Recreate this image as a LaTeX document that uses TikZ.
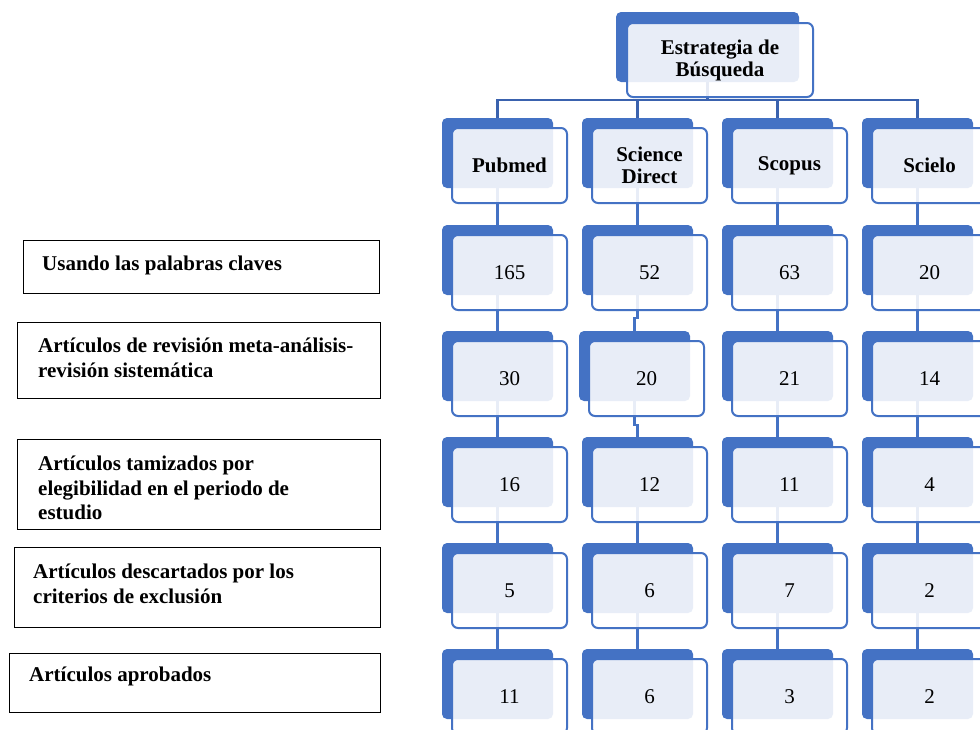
\documentclass[tikz,border=0pt]{standalone}
\usepackage{fontspec}
\setmainfont{Liberation Serif}
\definecolor{sblue}{HTML}{4472C4}
\definecolor{tblue}{HTML}{3A62AE}
\pgfdeclarelayer{bgwhite}
\pgfdeclarelayer{background}
\pgfsetlayers{bgwhite,background,main}
\newcommand\mkcell[5]{%
  \node[backbox] (b#1) at (#2,#3) {};
  \node[frontbox,font=#5] (f#1) at (#2+10,#3+10) {#4};}
\begin{document}
\begin{tikzpicture}[x=1pt,y=-1pt,
  backbox/.style={fill=sblue,draw=none,rounded corners=5pt,minimum width=111pt,minimum height=70pt,anchor=north west,inner sep=0pt,outer sep=0pt},
  frontbox/.style={draw=sblue,line width=2pt,fill=white,fill opacity=0.88,text opacity=1,rounded corners=6pt,minimum width=115pt,minimum height=75pt,anchor=north west,inner sep=0pt,outer sep=0pt,align=center},
  conn/.style={draw=sblue,line width=2.4pt},
  treeconn/.style={draw=tblue,line width=2.6pt,line join=miter},
  leftbox/.style={draw=black,line width=1.3pt,fill=white,anchor=north west,inner sep=0pt},
  lefttext/.style={anchor=west,align=left,inner sep=0pt,font=\fontsize{21}{24.5}\selectfont\bfseries}
]
\useasboundingbox (0,0) rectangle (980,729);
\begin{pgfonlayer}{bgwhite}
\fill[white] (0,0) rectangle (980,729);
\end{pgfonlayer}

% top node
\node[backbox,minimum width=183pt,minimum height=70pt] (tb) at (616,12) {};
\node[frontbox,minimum width=186pt,minimum height=74pt,font=\fontsize{21}{22}\selectfont\bfseries] (tf) at (627,23) {Estrategia de\\Búsqueda};

% header row
\mkcell{00}{442}{118}{Pubmed}{\fontsize{21}{22}\selectfont\bfseries}
\mkcell{01}{582}{118}{Science\\Direct}{\fontsize{21}{22}\selectfont\bfseries}
\mkcell{02}{722}{118}{Scopus}{\fontsize{21}{22}\selectfont\bfseries}
\mkcell{03}{862}{118}{Scielo}{\fontsize{21}{22}\selectfont\bfseries}
% number rows
\mkcell{10}{442}{225}{165}{\fontsize{21}{24}\selectfont}
\mkcell{11}{582}{225}{52}{\fontsize{21}{24}\selectfont}
\mkcell{12}{722}{225}{63}{\fontsize{21}{24}\selectfont}
\mkcell{13}{862}{225}{20}{\fontsize{21}{24}\selectfont}
\mkcell{20}{442}{331}{30}{\fontsize{21}{24}\selectfont}
\mkcell{21}{579}{331}{20}{\fontsize{21}{24}\selectfont}
\mkcell{22}{722}{331}{21}{\fontsize{21}{24}\selectfont}
\mkcell{23}{862}{331}{14}{\fontsize{21}{24}\selectfont}
\mkcell{30}{442}{437}{16}{\fontsize{21}{24}\selectfont}
\mkcell{31}{582}{437}{12}{\fontsize{21}{24}\selectfont}
\mkcell{32}{722}{437}{11}{\fontsize{21}{24}\selectfont}
\mkcell{33}{862}{437}{4}{\fontsize{21}{24}\selectfont}
\mkcell{40}{442}{543}{5}{\fontsize{21}{24}\selectfont}
\mkcell{41}{582}{543}{6}{\fontsize{21}{24}\selectfont}
\mkcell{42}{722}{543}{7}{\fontsize{21}{24}\selectfont}
\mkcell{43}{862}{543}{2}{\fontsize{21}{24}\selectfont}
\mkcell{50}{442}{649}{11}{\fontsize{21}{24}\selectfont}
\mkcell{51}{582}{649}{6}{\fontsize{21}{24}\selectfont}
\mkcell{52}{722}{649}{3}{\fontsize{21}{24}\selectfont}
\mkcell{53}{862}{649}{2}{\fontsize{21}{24}\selectfont}

% connectors (behind)
\begin{pgfonlayer}{background}
  \coordinate (bar) at (707.5,100);
  \draw[treeconn] (tb.center) -- (bar);
  \draw[treeconn] (b00.center) |- (bar) -| (b03.center);
  \draw[treeconn] (b01.center) |- (bar);
  \draw[treeconn] (b02.center) |- (bar);
  \foreach \c in {0,2,3}{
    \foreach \r/\s in {0/1,1/2,2/3,3/4,4/5}{
      \draw[conn] (b\r\c.center) -- (b\s\c.center);
    }
  }
  \draw[conn] (b01.center) -- (b11.center);
  \draw[conn] (b11.center) -- (b11.center |- 0,318) -- (b21.center |- 0,318) -- (b21.center);
  \draw[conn] (b21.center) -- (b21.center |- 0,425) -- (b31.center |- 0,425) -- (b31.center);
  \draw[conn] (b31.center) -- (b41.center);
  \draw[conn] (b41.center) -- (b51.center);
\end{pgfonlayer}

% left boxes
\node[leftbox,minimum width=356pt,minimum height=53pt] (L1) at (23,240) {};
\node[lefttext] (T1) at (42,265) {Usando las palabras claves};
\node[leftbox,minimum width=363pt,minimum height=76pt] (L2) at (17,322) {};
\node[lefttext] (T2) at (38,358) {Artículos de revisión meta-análisis-\\revisión sistemática};
\node[leftbox,minimum width=363pt,minimum height=90pt] (L3) at (17,439) {};
\node[lefttext] (T3) at (38,488) {Artículos tamizados por\\elegibilidad en el periodo de\\estudio};
\node[leftbox,minimum width=366pt,minimum height=80pt] (L4) at (14,547) {};
\node[lefttext] (T4) at (33,584) {Artículos descartados por los\\criterios de exclusión};
\node[leftbox,minimum width=371pt,minimum height=59pt] (L5) at (9,653) {};
\node[lefttext] (T5) at (29,676) {Artículos aprobados};
\end{tikzpicture}
\end{document}
